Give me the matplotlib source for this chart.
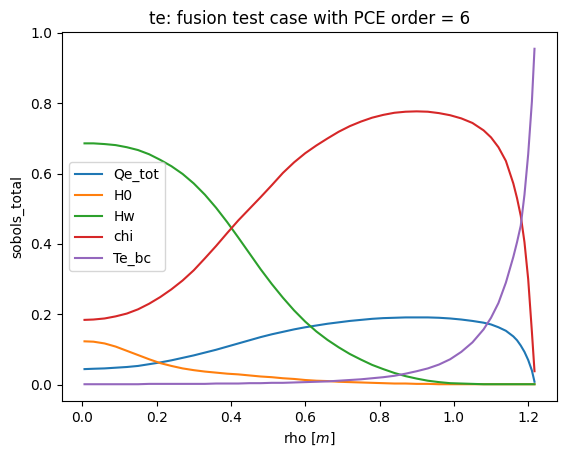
"""
Sobol total indices along rho for the fusion test case (PCE order 6).
"""

import matplotlib
matplotlib.use('Agg')
import matplotlib.pyplot as plt

# Radial grid (m)
rho = [0.006, 0.03, 0.06, 0.09, 0.12, 0.15, 0.18, 0.21, 0.24, 0.27,
       0.30, 0.33, 0.36, 0.39, 0.42, 0.45, 0.48, 0.51, 0.54, 0.57,
       0.60, 0.63, 0.66, 0.69, 0.72, 0.75, 0.78, 0.81, 0.84, 0.87,
       0.90, 0.93, 0.96, 0.99, 1.02, 1.05, 1.08, 1.10, 1.12, 1.14,
       1.16, 1.17, 1.18, 1.19, 1.20, 1.21, 1.217]

# Total Sobol indices per uncertain input
qe_tot = [0.044, 0.045, 0.046, 0.048, 0.050, 0.053, 0.058, 0.063, 0.069, 0.076,
          0.083, 0.091, 0.099, 0.108, 0.117, 0.126, 0.135, 0.143, 0.150, 0.157,
          0.163, 0.168, 0.173, 0.177, 0.181, 0.184, 0.187, 0.189, 0.190, 0.191,
          0.191, 0.191, 0.190, 0.188, 0.185, 0.181, 0.176, 0.171, 0.163, 0.153,
          0.137, 0.126, 0.111, 0.093, 0.070, 0.040, 0.008]
h0 = [0.123, 0.122, 0.117, 0.108, 0.096, 0.084, 0.072, 0.061, 0.053, 0.046,
      0.041, 0.037, 0.034, 0.031, 0.029, 0.026, 0.023, 0.021, 0.018, 0.016,
      0.013, 0.011, 0.010, 0.008, 0.007, 0.006, 0.005, 0.004, 0.003, 0.003,
      0.002, 0.002, 0.001, 0.001, 0.001, 0.001, 0.001, 0.001, 0.001, 0.001,
      0.001, 0.001, 0.001, 0.001, 0.001, 0.001, 0.001]
hw = [0.686, 0.686, 0.684, 0.681, 0.675, 0.667, 0.655, 0.639, 0.621, 0.599,
      0.572, 0.540, 0.503, 0.462, 0.418, 0.373, 0.328, 0.286, 0.247, 0.211,
      0.179, 0.151, 0.127, 0.106, 0.087, 0.071, 0.056, 0.044, 0.033, 0.024,
      0.017, 0.011, 0.007, 0.004, 0.003, 0.002, 0.001, 0.001, 0.001, 0.001,
      0.001, 0.001, 0.001, 0.001, 0.001, 0.001, 0.001]
chi = [0.184, 0.185, 0.188, 0.194, 0.202, 0.214, 0.230, 0.249, 0.271, 0.296,
       0.325, 0.359, 0.394, 0.431, 0.467, 0.500, 0.533, 0.567, 0.602, 0.632,
       0.658, 0.680, 0.700, 0.719, 0.735, 0.748, 0.759, 0.767, 0.773, 0.776,
       0.777, 0.776, 0.772, 0.766, 0.757, 0.744, 0.723, 0.703, 0.675, 0.636,
       0.572, 0.530, 0.480, 0.405, 0.300, 0.150, 0.038]
te_bc = [0.001, 0.001, 0.001, 0.001, 0.001, 0.001, 0.002, 0.002, 0.002, 0.002,
         0.002, 0.002, 0.003, 0.003, 0.003, 0.004, 0.004, 0.005, 0.005, 0.006,
         0.007, 0.008, 0.009, 0.011, 0.013, 0.015, 0.018, 0.021, 0.025, 0.031,
         0.038, 0.046, 0.057, 0.072, 0.093, 0.120, 0.157, 0.190, 0.232, 0.290,
         0.363, 0.405, 0.452, 0.540, 0.655, 0.805, 0.955]

series = [('Qe_tot', qe_tot), ('H0', h0), ('Hw', hw), ('chi', chi), ('Te_bc', te_bc)]

fig = plt.figure(figsize=(5.67, 4.57), dpi=100)
ax = fig.add_axes([62 / 567, 56 / 457, 495 / 567, 369 / 457])

for name, values in series:
    ax.plot(rho, values, label=name)

ax.set_title('te: fusion test case with PCE order = 6')
ax.set_xlabel('rho [$m$]')
ax.set_ylabel('sobols_total')
ax.legend(loc='center left')

fig.savefig('out.png', dpi=100)
